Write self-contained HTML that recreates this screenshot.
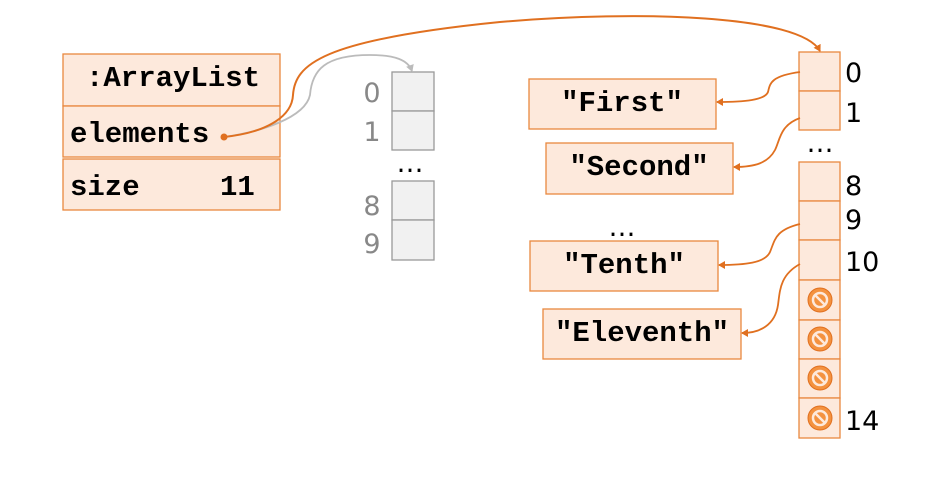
<!DOCTYPE html>
<html><head><meta charset="utf-8"><style>
body{margin:0;background:#fff}
svg{display:block}
.m{font-family:"Liberation Mono",monospace;font-weight:bold;font-size:29px;fill:#000}
.s{font-family:"DejaVu Sans","Liberation Sans",sans-serif;font-size:27px}
</style></head><body>
<svg width="926" height="495" viewBox="0 0 926 495" xmlns="http://www.w3.org/2000/svg">
<defs>
<marker id="ao" markerWidth="8" markerHeight="8" refX="6" refY="4" orient="auto" markerUnits="userSpaceOnUse"><path d="M0,0 L7,4 L0,8 z" fill="#e07020"/></marker>
<marker id="ag" markerWidth="8" markerHeight="8" refX="6" refY="4" orient="auto" markerUnits="userSpaceOnUse"><path d="M0,0 L7,4 L0,8 z" fill="#bbb"/></marker>
</defs>
<g fill="#fde9dc" stroke="#e9883f" stroke-width="1.3">
<rect x="63" y="54" width="217" height="52"/>
<rect x="63" y="106" width="217" height="51"/>
<rect x="63" y="159" width="217" height="51"/>
<rect x="529" y="79" width="187" height="50"/>
<rect x="546" y="143" width="187" height="51"/>
<rect x="530" y="241" width="188" height="50"/>
<rect x="543" y="309" width="198" height="50"/>
<rect x="799" y="52" width="41" height="39"/>
<rect x="799" y="91" width="41" height="39"/>
<rect x="799" y="162" width="41" height="39"/>
<rect x="799" y="201" width="41" height="39"/>
<rect x="799" y="240" width="41" height="40"/>
<rect x="799" y="280" width="41" height="40"/>
<rect x="799" y="320" width="41" height="39"/>
<rect x="799" y="359" width="41" height="39"/>
<rect x="799" y="398" width="41" height="40"/>
</g>
<g fill="#f1f1f1" stroke="#999" stroke-width="1.3">
<rect x="392" y="72" width="42" height="39"/>
<rect x="392" y="111" width="42" height="39"/>
<rect x="392" y="181" width="42" height="39"/>
<rect x="392" y="220" width="42" height="40"/>
</g>
<g>
<g fill="#f4923f" stroke="#e07020" stroke-width="1">
<circle cx="820" cy="300" r="12"/><circle cx="820" cy="339" r="12"/><circle cx="820" cy="378" r="12"/><circle cx="820" cy="418" r="12"/>
</g>
<g stroke="#fde9dc" stroke-width="2.5">
<circle cx="820" cy="300" r="7" fill="none"/><line x1="815" y1="295" x2="825" y2="305"/>
<circle cx="820" cy="339" r="7" fill="none"/><line x1="815" y1="334" x2="825" y2="344"/>
<circle cx="820" cy="378" r="7" fill="none"/><line x1="815" y1="373" x2="825" y2="383"/>
<circle cx="820" cy="418" r="7" fill="none"/><line x1="815" y1="413" x2="825" y2="423"/>
</g>
</g>
<text class="m" x="86" y="86">:ArrayList</text>
<text class="m" x="70" y="142">elements</text>
<text class="m" x="70" y="195">size</text>
<text class="m" x="220" y="195">11</text>
<text class="m" x="622" y="111" text-anchor="middle">"First"</text>
<text class="m" x="639" y="175" text-anchor="middle">"Second"</text>
<text class="m" x="624" y="273" text-anchor="middle">"Tenth"</text>
<text class="m" x="642" y="341" text-anchor="middle">"Eleventh"</text>
<g class="s" fill="#888" text-anchor="middle">
<text x="372" y="102">0</text><text x="372" y="141">1</text>
<text x="372" y="215">8</text><text x="372" y="253">9</text>
</g>
<text class="s" x="410" y="172" text-anchor="middle" fill="#000" font-size="18">…</text>
<text class="s" x="622" y="236" text-anchor="middle" fill="#000" font-size="18">…</text>
<text class="s" x="820" y="152" text-anchor="middle" fill="#000" font-size="18">…</text>
<g class="s" fill="#000">
<text x="845" y="82">0</text><text x="845" y="122">1</text>
<text x="845" y="195">8</text><text x="845" y="229">9</text>
<text x="845" y="271">10</text><text x="845" y="430">14</text>
</g>
<path d="M224,137 C260,132 305,118 310,95 C312,70 325,55 370,55 C395,55 408,60 412,71" fill="none" stroke="#bbb" stroke-width="1.8" marker-end="url(#ag)"/>
<path d="M224,137 C270,132 292,115 293,95 C295,65 320,40 500,22 C640,10 800,15 820,51" fill="none" stroke="#e07020" stroke-width="2" marker-end="url(#ao)"/>
<circle cx="224" cy="137" r="3.5" fill="#e07020"/>
<g fill="none" stroke="#e07020" stroke-width="1.8">
<path d="M800,72 C770,76 770,84 768,92 C765,100 745,102 717,102" marker-end="url(#ao)"/>
<path d="M800,118 C780,125 780,140 775,150 C768,163 755,167 734,167" marker-end="url(#ao)"/>
<path d="M800,224 C775,230 775,240 770,252 C765,263 745,265 719,265" marker-end="url(#ao)"/>
<path d="M800,264 C780,275 780,290 778,305 C775,325 760,333 742,333" marker-end="url(#ao)"/>
</g>
</svg>
</body></html>
